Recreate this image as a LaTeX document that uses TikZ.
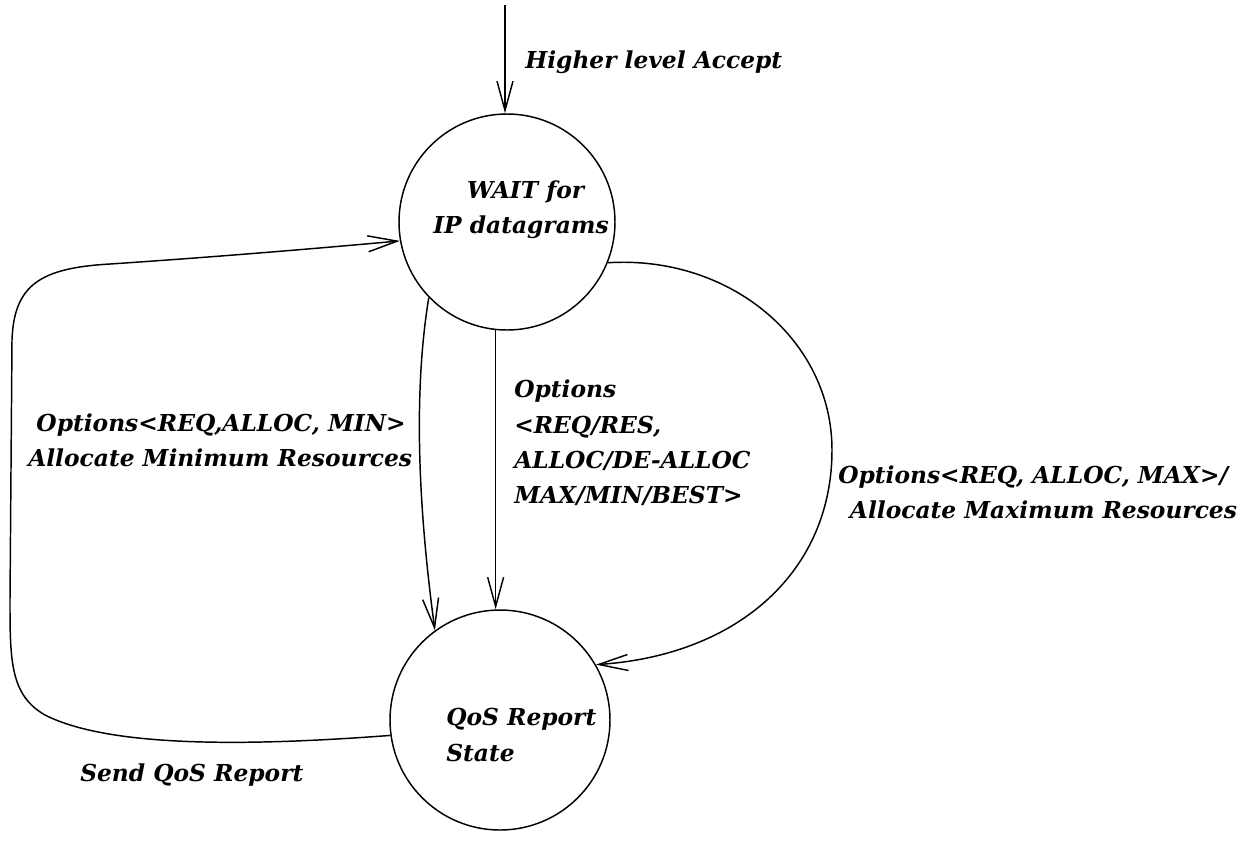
\documentclass[tikz,border=0pt]{standalone}
\usepackage{fontspec}
\setmainfont{DejaVu Serif}
\usetikzlibrary{arrows.meta}
\begin{document}
\begin{tikzpicture}[x=0.75pt,y=-0.75pt,
  state/.style={draw,circle,line width=1.1pt,inner sep=0pt},
  lbl/.style={font=\fontsize{17.5}{26.5}\selectfont\bfseries\itshape,inner sep=0pt},
  conn/.style={line width=1.1pt,-{Straight Barb[length=22pt,width=12pt,line width=1.1pt]}}]
\useasboundingbox (0,0) rectangle (1256,851);
\node[state,minimum size=162pt] (wait) at (507,222) {};
\node[state,minimum size=165pt] (qos) at (500,720) {};
\node[lbl,align=left,anchor=west] (waittxt) at (433,210) {\hspace*{1.45em}WAIT for\\IP datagrams};
\node[lbl,align=left,anchor=west] (qostxt) at (446,735) {QoS Report\\State};
\coordinate (top) at (505,5);
\draw[conn] (top) -- (wait.north -| top);
\node[lbl,anchor=west] (hla) at (525,62) {Higher level Accept};
% left loop
\draw[conn] (qos.188) .. controls (250,746) and (110,748) .. (45,715)
  .. controls (10,695) and (10,660) .. (10,600) -- (12,340)
  .. controls (14,285) and (40,268) .. (110,264)
  .. controls (200,258) and (300,250) .. (wait.190);
% middle curved
\draw[conn] (wait.224) .. controls (412,400) and (420,520) .. (qos.126);
% straight
\draw[conn] (wait.264) -- (wait.264 |- qos.north);
% right arc
\draw[conn] (wait.-22) .. controls (730,255) and (832,340) .. (832,450)
  .. controls (832,570) and (740,655) .. (qos.30);
\node[lbl,align=left,anchor=west] (minlbl) at (28,440) {\hspace*{0.35em}Options<REQ,ALLOC, MIN>\\Allocate Minimum Resources};
\node[lbl,align=left,anchor=west] (midlbl) at (514,443) {Options\\<REQ/RES,\\ALLOC/DE-ALLOC\\MAX/MIN/BEST>};
\node[lbl,align=left,anchor=west] (maxlbl) at (838,492) {Options<REQ, ALLOC, MAX>/\\\hspace*{0.5em}Allocate Maximum Resources};
\node[lbl,anchor=west] (send) at (80,775) {Send QoS Report};
\end{tikzpicture}
\end{document}
